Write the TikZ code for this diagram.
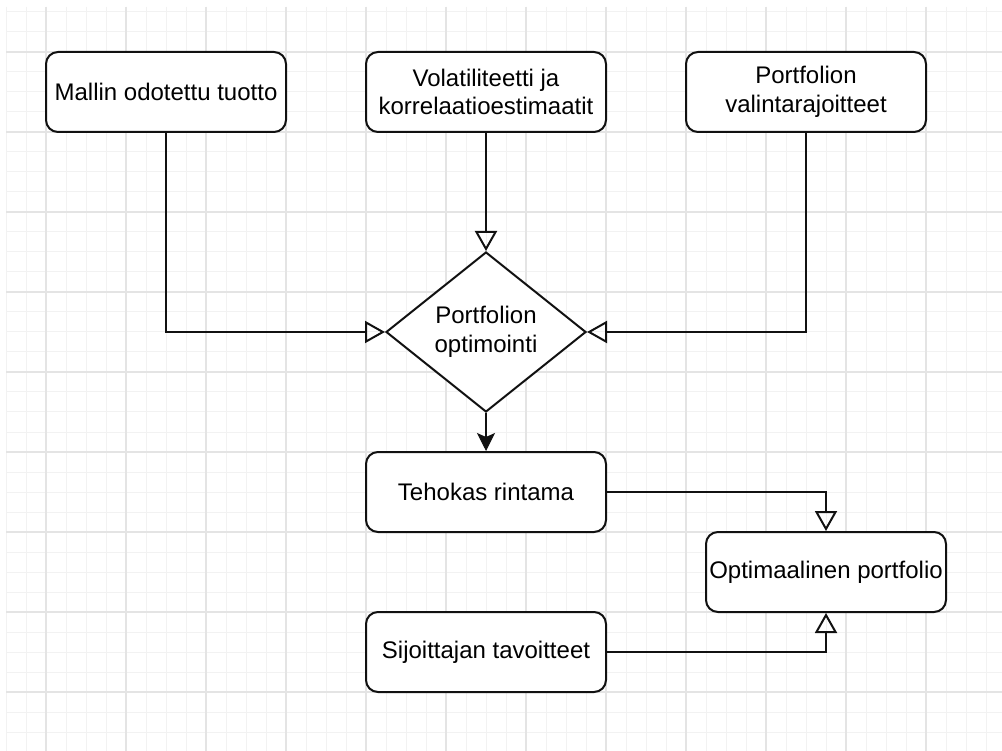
\documentclass[tikz,border=0pt]{standalone}
\usepackage{fontspec}
\setmainfont{Liberation Sans}
\usetikzlibrary{arrows.meta,shapes.geometric}
\definecolor{gridminor}{HTML}{F2F2F2}
\definecolor{gridmajor}{HTML}{E4E4E4}
\definecolor{ink}{HTML}{111111}
\begin{document}
\begin{tikzpicture}[x=1pt,y=-1pt,
  txt/.style={font=\fontsize{24pt}{28.8pt}\selectfont, align=center, inner sep=0pt, text=black},
  box/.style={txt, draw=ink, line width=2pt, fill=white, rounded corners=12pt, minimum width=240pt, minimum height=80pt},
  decision/.style={diamond, draw=ink, line width=2pt, fill=white, minimum width=200pt, minimum height=160pt, inner sep=0pt},
  conn/.style={draw=ink, line width=2pt},
  openarrow/.style={conn, -{Triangle[open, length=20pt, width=22pt, line width=2pt]}},
  fillarrow/.style={conn, -{Stealth[length=18pt, width=18pt, inset=4pt, line width=1pt]}},
  gmin/.style={draw=gridminor, line width=1pt},
  gmaj/.style={draw=gridmajor, line width=1.3pt}
]
\useasboundingbox (0,0) rectangle (1002,751);
\fill[white] (0,0) rectangle (1002,751);
% grid
\foreach \x in {6,26,...,1002} \draw[gmin] (\x,7) -- (\x,751);
\foreach \y in {12,32,...,751} \draw[gmin] (6,\y) -- (1002,\y);
\foreach \x in {46,126,...,1002} \draw[gmaj] (\x,7) -- (\x,751);
\foreach \y in {52,132,...,751} \draw[gmaj] (6,\y) -- (1002,\y);

% nodes
\node[box] (mallin) at (166,92) {Mallin odotettu tuotto};
\node[box] (vol) at (486,92) {Volatiliteetti ja\\korrelaatioestimaatit};
\node[box] (valinta) at (806,92) {Portfolion\\valintarajoitteet};
\node[decision] (opt) at (486,332) {};
\node[txt] (opttxt) at (opt.center) {Portfolion\\optimointi};
\node[box] (teho) at (486,492) {Tehokas rintama};
\node[box] (optp) at (826,572) {Optimaalinen portfolio};
\node[box] (sijo) at (486,652) {Sijoittajan tavoitteet};

% connectors
\draw[openarrow] (mallin.south) |- (opt.west);
\draw[openarrow] (vol.south) -- (opt.north);
\draw[openarrow] (valinta.south) |- (opt.east);
\draw[fillarrow] (opt.south) -- (teho.north);
\draw[openarrow] (teho.east) -| (optp.north);
\draw[openarrow] (sijo.east) -| (optp.south);
\end{tikzpicture}
\end{document}
